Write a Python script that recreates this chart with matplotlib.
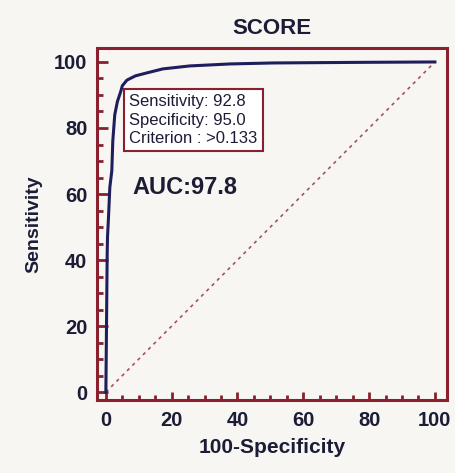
import matplotlib
matplotlib.use("Agg")
import matplotlib.pyplot as plt
import numpy as np

# ROC curve
fpr = [0, 0.4, 0.5, 0.8, 1.2, 1.8, 2.1, 2.7, 3.5, 4.5, 5.0, 6.4, 9.0, 12.5,
       17.3, 25.5, 37.7, 50.8, 65, 80, 100]
tpr = [0, 42, 47, 53, 62, 67, 76, 84, 88, 91, 92.8, 94.5, 95.8, 96.7,
       97.9, 98.8, 99.4, 99.7, 99.8, 99.9, 100]
diag = [0, 100]
xticks = [0, 20, 40, 60, 80, 100]
yticks = [0, 20, 40, 60, 80, 100]
title = "SCORE"
xlabel = "100-Specificity"
ylabel = "Sensitivity"
crit_point = (5.0, 92.8)
crit_text = "Sensitivity: 92.8\nSpecificity: 95.0\nCriterion : >0.133"
auc_text = "AUC:97.8"

frame = "#8a1f2e"
curve = "#1e1e5c"
ink = "#1c1c36"
bg = "#f7f6f3"

plt.rcParams['font.family'] = ['Liberation Sans', 'DejaVu Sans']

fig = plt.figure(figsize=(4.56, 4.73), dpi=100, facecolor=bg)
ax = fig.add_axes([0.2127, 0.1543, 0.767, 0.744])
ax.set_facecolor(bg)

ax.plot(diag, diag, linestyle=(0, (2, 2.5)), color="#a8505e", lw=1.2)
ax.plot(fpr, tpr, color=curve, lw=2.2, solid_joinstyle='round')

ax.set_xlim(-2.7, 103.6)
ax.set_ylim(-2.4, 104.2)
ax.set_xticks(xticks)
ax.set_yticks(yticks)
ax.set_xticks(np.arange(0, 101, 5), minor=True)
ax.set_yticks(np.arange(0, 101, 5), minor=True)

for s in ax.spines.values():
    s.set_color(frame)
    s.set_linewidth(2.2)

ax.tick_params(which='both', direction='in', color=frame, top=False, right=False)
ax.tick_params(axis='x', which='major', length=6, width=2, pad=8)
ax.tick_params(axis='x', which='minor', length=3.5, width=2)
ax.tick_params(axis='y', which='major', length=8, width=2, pad=7)
ax.tick_params(axis='y', which='minor', length=4, width=2)
for lab in ax.get_xticklabels() + ax.get_yticklabels():
    lab.set_fontsize(14.5)
    lab.set_fontweight('bold')
    lab.set_color(ink)

ax.set_title(title, fontsize=16, fontweight='bold', color=ink, pad=10)
ax.set_xlabel(xlabel, fontsize=15, fontweight='bold', color=ink, labelpad=6)
ax.set_ylabel(ylabel, fontsize=14, fontweight='bold', color=ink, labelpad=8)

ax.annotate(crit_text, xy=crit_point, xytext=(5, -6), textcoords='offset points',
            ha='left', va='top', fontsize=12, color=ink, linespacing=1.3,
            bbox=dict(boxstyle='square,pad=0.3', fc='white', ec=frame, lw=1.5))

ax.text(8.2, 62, auc_text, fontsize=17, fontweight='bold', color=ink,
        ha='left', va='center')

fig.savefig("out.png", dpi=100, facecolor=bg)
